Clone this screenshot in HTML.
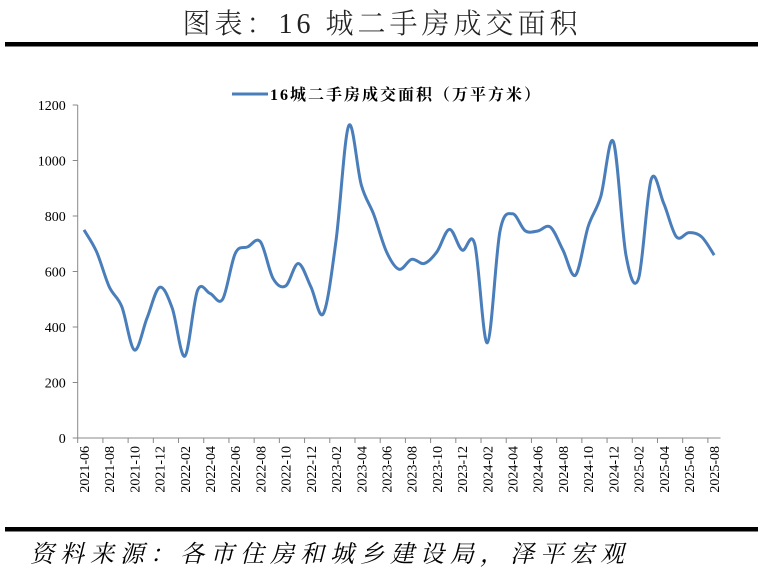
<!DOCTYPE html>
<html><head><meta charset="utf-8"><style>
body{margin:0;background:#fff;}
svg text{font-family:"Liberation Serif","Noto Serif CJK SC",serif;}
</style></head><body>
<svg width="763" height="579" viewBox="0 0 763 579">
<rect width="763" height="579" fill="#fff"/>
<text x="382" y="33" text-anchor="middle" font-size="28" letter-spacing="4" font-weight="300" fill="#222">图表：16 城二手房成交面积</text>
<rect x="5" y="42" width="753" height="4.5" fill="#000"/>
<g>
<line x1="232" y1="94" x2="268" y2="94" stroke="#4a7ebb" stroke-width="3"/>
<text x="270" y="100" font-size="16" letter-spacing="2" font-weight="bold" fill="#000">16城二手房成交面积（万平方米）</text>
</g>
<g id="axes"></g>
<path id="series" fill="none" stroke="#4a7ebb" stroke-width="3" stroke-linejoin="round"/>
<rect x="5" y="527" width="753" height="4.5" fill="#000"/>
<text x="30" y="562" font-size="24" letter-spacing="6" font-style="italic" fill="#000">资料来源：各市住房和城乡建设局，泽平宏观</text>
</svg>
<script>
const months=[];
for(let y=2021,m=6;!(y===2025&&m===9);){months.push(y+'-'+String(m).padStart(2,'0'));m++;if(m>12){m=1;y++;}}
const values=[750,671,545,473,317,432,543,468,295,531,521,500,665,689,707,575,548,629,545,449,713,1125,912,804,671,608,644,629,671,752,677,699,343,744,808,747,746,760,677,587,762,870,1068,659,575,932,845,725,740,725,659];
const yTicks=[0,200,400,600,800,1000,1200];
const X0=77.7,X1=720.5,Y0=438,Y1=105,YMAX=1200;
const bw=(X1-X0)/months.length;
const xs=i=>X0+bw*(i+0.5);
const ys=v=>Y0-(v/YMAX)*(Y0-Y1);
const NS='http://www.w3.org/2000/svg';
const ax=document.getElementById('axes');
function mk(t,a,p){const e=document.createElementNS(NS,t);for(const k in a)e.setAttribute(k,a[k]);(p||ax).appendChild(e);return e;}
const yl=mk('line',{x1:X0,y1:Y0,x2:X0,y2:Y1,stroke:'#888','stroke-width':1});


const xl=mk('line',{x1:X0,y1:Y0,x2:X1,y2:Y0,stroke:'#888','stroke-width':1});


yTicks.forEach(v=>{
 const y=ys(v);
 mk('line',{x1:X0-5,y1:y,x2:X0,y2:y,stroke:'#888'});
 const t=mk('text',{x:X0-12,y:y+5,'text-anchor':'end','font-size':14,fill:'#000'});
 
 
 t.textContent=v;
});
for(let i=0;i<=months.length;i+=2){
 const x=X0+bw*i;
 mk('line',{x1:x,y1:Y0,x2:x,y2:Y0+5,stroke:'#888'});
}
months.forEach((m,i)=>{
 if(i%2)return;
 const x=xs(i);
 const t=mk('text',{x:0,y:0,transform:`translate(${x+5},446) rotate(-90)`,'text-anchor':'end','font-size':14,fill:'#000'});
 
 
 t.textContent=m;
});
const pts=values.map((v,i)=>[xs(i),ys(v)]);
let d='M'+pts[0][0]+','+pts[0][1];
const k=1/6;
for(let i=0;i<pts.length-1;i++){
 const p0=pts[Math.max(0,i-1)],p1=pts[i],p2=pts[i+1],p3=pts[Math.min(pts.length-1,i+2)];
 const c1=[p1[0]+(p2[0]-p0[0])*k,p1[1]+(p2[1]-p0[1])*k];
 const c2=[p2[0]-(p3[0]-p1[0])*k,p2[1]-(p3[1]-p1[1])*k];
 d+=` C${c1[0]},${c1[1]} ${c2[0]},${c2[1]} ${p2[0]},${p2[1]}`;
}
document.getElementById('series').setAttribute('d',d);
</script>
</body></html>
